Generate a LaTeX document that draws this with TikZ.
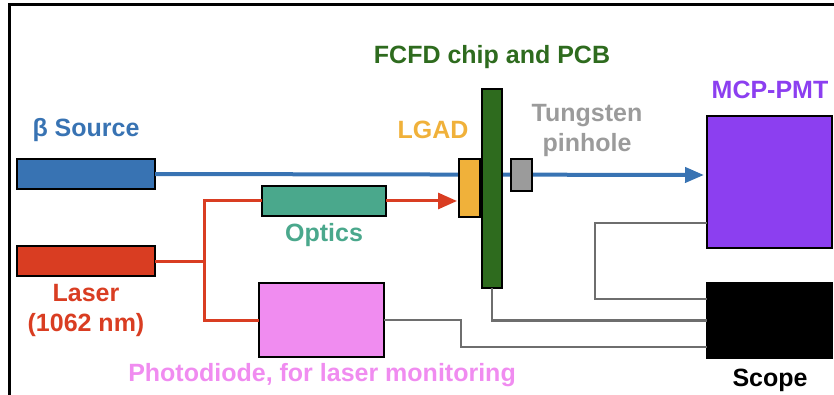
\documentclass[tikz,border=0pt]{standalone}
\usepackage{fontspec}
\setmainfont{Liberation Sans}
\usepackage{tikz}
\usetikzlibrary{arrows.meta, positioning, calc}
\definecolor{fcfdblue}{RGB}{56,115,179}
\definecolor{fcfdred}{RGB}{217,61,34}
\definecolor{fcfdteal}{RGB}{74,168,140}
\definecolor{fcfdorange}{RGB}{240,177,58}
\definecolor{fcfdgreen}{RGB}{46,107,30}
\definecolor{fcfdgray}{RGB}{155,155,155}
\definecolor{fcfdpurple}{RGB}{140,63,240}
\definecolor{fcfdpink}{RGB}{240,140,240}
\definecolor{fcfdwire}{RGB}{110,110,110}
\tikzset{
  part/.style={
    rectangle, draw=black, line width=1.5pt, inner sep=0pt, outer sep=0pt
  },
  lbl/.style={
    font=\fontsize{25}{30}\selectfont\bfseries, align=center, inner sep=0pt
  },
  beam/.style={line width=4pt, draw=fcfdblue, -{Triangle[length=19pt, width=15pt]}},
  laserline/.style={line width=3pt, draw=fcfdred},
  wire/.style={line width=2.8pt, draw=fcfdwire}
}

\begin{document}
\begin{tikzpicture}[x=1pt, y=-1pt]
\useasboundingbox (0,0) rectangle (834,395);

% frame
\draw[line width=3pt] (9.5,395) -- (9.5,5) -- (834,5);

% beta source and beam line
\node[part, fill=fcfdblue, minimum width=138pt, minimum height=30pt] (src) at (86,174) {};
\node[lbl, text=fcfdblue] (srclbl) at (86,130) {β Source};
\coordinate (beamend) at (704,175);
\draw[beam] (src.east) -- (beamend);

% DUT stack
\node[part, fill=fcfdorange, minimum width=21pt, minimum height=58pt] (lgad) at (469.5,188) {};
\node[part, fill=fcfdgreen, minimum width=20pt, minimum height=199pt] (chip) at (492,188.5) {};
\node[part, fill=fcfdgray, minimum width=21pt, minimum height=32pt] (pinhole) at (521.5,175) {};
\node[lbl, text=fcfdorange] (lgadlbl) at (433,130) {LGAD};
\node[lbl, text=fcfdgreen] (chiplbl) at (492,57) {FCFD chip and PCB};
\node[lbl, text=fcfdgray] (pinholelbl) at (587,130) {Tungsten\\pinhole};

% MCP-PMT and scope
\node[part, fill=fcfdpurple, minimum width=125pt, minimum height=132pt] (mcp) at (769.5,182) {};
\node[lbl, text=fcfdpurple] (mcplbl) at (770,90) {MCP-PMT};
\node[part, fill=black, minimum width=125pt, minimum height=75pt] (scope) at (769.5,320.5) {};
\node[lbl] (scopelbl) at (770,380) {Scope};

% laser branch
\node[part, fill=fcfdred, minimum width=138pt, minimum height=30pt] (laser) at (86,261) {};
\node[lbl, text=fcfdred] (laserlbl) at (86,310) {Laser\\(1062 nm)};
\node[part, fill=fcfdteal, minimum width=124pt, minimum height=30pt] (optics) at (324,201) {};
\node[lbl, text=fcfdteal] (opticslbl) at (324,235) {Optics};
\node[part, fill=fcfdpink, minimum width=125pt, minimum height=74pt] (photo) at (321.5,320) {};
\node[lbl, text=fcfdpink] (photolbl) at (322,375) {Photodiode, for laser monitoring};

\coordinate (split) at (204,261);
\draw[laserline] (laser.east) -- (split);
\draw[laserline] (split) |- (optics.west);
\draw[laserline] (split) |- (photo.west);
\draw[laserline, -{Triangle[length=19pt, width=16pt]}, shorten >=2pt] (optics.east) -- (optics.east -| lgad.west);

% signal cables to scope
\coordinate (pdturn) at (461,347);
\draw[wire] (photo.east) -| (pdturn) -- (pdturn -| scope.west);
\draw[wire] (chip.south) |- (scope.west);
\draw[wire] (mcp.west |- {(0,223)}) -| (595,261) |- (scope.west |- {(0,299)});

\end{tikzpicture}
\end{document}
